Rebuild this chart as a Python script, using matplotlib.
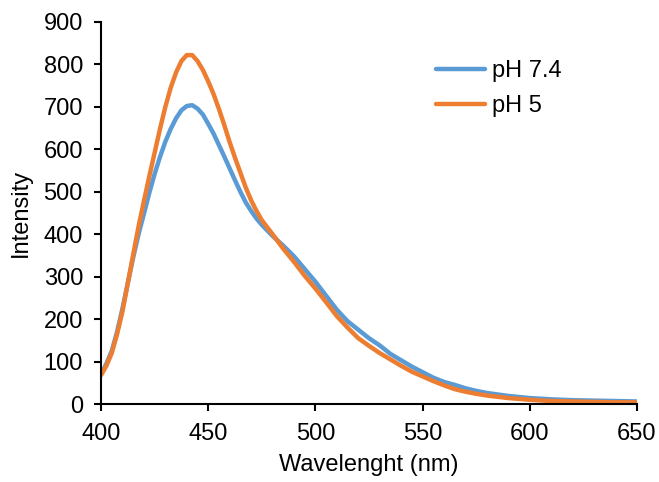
import matplotlib
matplotlib.use("Agg")
import matplotlib.pyplot as plt

plt.rcParams['font.family'] = ['Liberation Sans', 'DejaVu Sans']

# wavelength (nm) and intensity
wl = [400, 402.5, 405, 407.5, 410, 412.5, 415, 417.5, 420, 422.5, 425, 427.5, 430, 432.5,
      435, 437.5, 440, 442.5, 445, 447.5, 450, 452.5, 455, 457.5, 460, 462.5, 465, 467.5,
      470, 472.5, 475, 480, 485, 490, 495, 500, 505, 510, 515, 520, 525, 530, 535, 540,
      545, 550, 555, 560, 565, 570, 575, 580, 590, 600, 610, 620, 630, 640, 650]
ph74 = [70, 95, 125, 170, 225, 285, 345, 400, 448, 497, 542, 582, 618, 648, 673, 692,
        702, 704, 696, 682, 660, 637, 610, 583, 555, 527, 500, 475, 455, 437, 422, 396,
        373, 348, 318, 288, 255, 222, 195, 175, 155, 138, 118, 103, 88, 75, 62, 52, 45,
        37, 31, 26, 19, 14, 11, 9, 8, 7, 6]
ph5 = [68, 90, 120, 165, 218, 285, 352, 418, 478, 536, 592, 648, 700, 745, 781, 808,
       822, 822, 808, 787, 760, 730, 695, 657, 617, 580, 545, 510, 480, 455, 433, 400,
       366, 335, 302, 272, 240, 207, 180, 155, 137, 120, 105, 90, 76, 65, 54, 44, 35,
       29, 24, 20, 14, 10, 7, 6, 5, 4, 4]

fig = plt.figure(figsize=(6.59, 4.82), dpi=100)
ax = fig.add_axes([0.1533, 0.1618, 0.8133, 0.7926])

ax.plot(wl, ph74, color='#5B9BD5', lw=3.2, label='pH 7.4',
        solid_capstyle='round', solid_joinstyle='round')
ax.plot(wl, ph5, color='#ED7D31', lw=3.2, label='pH 5',
        solid_capstyle='round', solid_joinstyle='round')

ax.set_xlim(400, 650)
ax.set_ylim(0, 900)
ax.set_xticks(range(400, 651, 50))
ax.set_yticks(range(0, 901, 100))
for s in ['top', 'right']:
    ax.spines[s].set_visible(False)
for s in ['left', 'bottom']:
    ax.spines[s].set_linewidth(1.5)
    ax.spines[s].set_color('black')
ax.tick_params(direction='out', length=5, width=1.5, labelsize=17, colors='black')
ax.tick_params(axis='y', pad=8)
ax.tick_params(axis='x', pad=9)

ax.set_xlabel('Wavelenght (nm)', fontsize=17, labelpad=6)
ax.set_ylabel('Intensity', fontsize=17, labelpad=8)

ax.legend(loc='upper left', bbox_to_anchor=(0.585, 0.955), frameon=False, fontsize=17,
          handlelength=2.1, handletextpad=0.3, labelspacing=0.55)

fig.savefig('out.png', dpi=100)
